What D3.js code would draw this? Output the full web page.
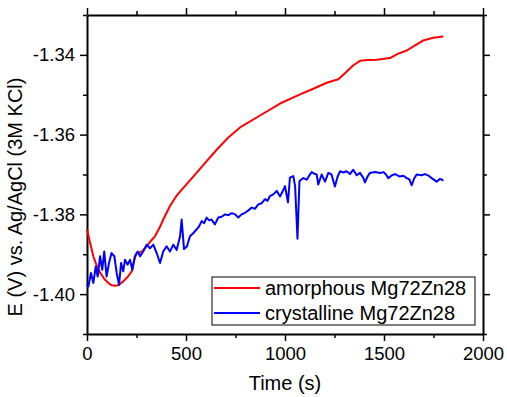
<!DOCTYPE html>
<html>
<head>
<meta charset="utf-8">
<script src="https://cdn.jsdelivr.net/npm/d3@7"></script>
<style>
  body { margin: 0; background: #fff; }
  text { font-family: Arial, "Liberation Sans", sans-serif; fill: #000; }
</style>
</head>
<body>
<svg id="chart"></svg>
<script>
// amorphous Mg72Zn28 (red)
const amorphousTime = [0, 15, 32, 50, 66, 88, 108, 125, 141, 160, 183, 205, 226, 238, 250, 268, 284, 301, 320, 343, 365, 385, 419, 450, 470, 500, 550, 600, 655, 712, 773, 874, 975, 1076, 1143, 1211, 1269, 1303, 1345, 1379, 1420, 1463, 1530, 1572, 1615, 1657, 1697, 1749, 1800];
const amorphousE = [-1.3838, -1.3870, -1.3905, -1.3930, -1.3946, -1.3962, -1.3972, -1.3978, -1.3979, -1.3977, -1.3968, -1.3957, -1.3943, -1.3915, -1.3898, -1.3895, -1.3890, -1.3880, -1.3868, -1.3855, -1.3835, -1.3813, -1.3779, -1.3755, -1.3743, -1.3726, -1.3698, -1.3669, -1.3638, -1.3608, -1.3582, -1.3552, -1.3522, -1.3499, -1.3485, -1.3470, -1.3461, -1.3446, -1.3426, -1.3415, -1.3413, -1.3412, -1.3408, -1.3397, -1.3389, -1.3376, -1.3364, -1.3357, -1.3354];

// crystalline Mg72Zn28 (blue)
const crystallineTime = [0, 7, 20, 32, 44, 54, 66, 77, 87, 99, 111, 124, 138, 150, 162, 172, 183, 192, 205, 217, 229, 242, 256, 268, 284, 301, 318, 335, 352, 369, 385, 402, 419, 436, 453, 470, 478, 490, 505, 520, 535, 553, 566, 579, 592, 604, 617, 629, 646, 663, 680, 697, 714, 731, 748, 764, 781, 798, 815, 832, 848, 865, 882, 899, 912, 924, 941, 958, 975, 990, 1000, 1015, 1025, 1042, 1051, 1063, 1073, 1084, 1093, 1110, 1122, 1135, 1148, 1160, 1168, 1185, 1202, 1219, 1235, 1252, 1266, 1278, 1295, 1311, 1328, 1345, 1362, 1379, 1396, 1404, 1417, 1429, 1455, 1480, 1497, 1510, 1522, 1540, 1556, 1578, 1598, 1615, 1628, 1640, 1652, 1665, 1690, 1707, 1725, 1741, 1755, 1766, 1783, 1800];
const crystallineE = [-1.3975, -1.3981, -1.3947, -1.3972, -1.3931, -1.3956, -1.3905, -1.3939, -1.3893, -1.3956, -1.3922, -1.3897, -1.3905, -1.3947, -1.3977, -1.3922, -1.3943, -1.3914, -1.3926, -1.3914, -1.3939, -1.3905, -1.3893, -1.3905, -1.3893, -1.3876, -1.3885, -1.3876, -1.3897, -1.3922, -1.3893, -1.3880, -1.3893, -1.3876, -1.3889, -1.3855, -1.3813, -1.3887, -1.3880, -1.3855, -1.3848, -1.3838, -1.3830, -1.3817, -1.3822, -1.3808, -1.3815, -1.3813, -1.3825, -1.3808, -1.3806, -1.3800, -1.3802, -1.3797, -1.3800, -1.3808, -1.3800, -1.3796, -1.3790, -1.3783, -1.3786, -1.3775, -1.3772, -1.3762, -1.3766, -1.3754, -1.3750, -1.3741, -1.3755, -1.3740, -1.3729, -1.3770, -1.3708, -1.3704, -1.3729, -1.3861, -1.3717, -1.3712, -1.3709, -1.3713, -1.3703, -1.3694, -1.3698, -1.3700, -1.3725, -1.3700, -1.3718, -1.3696, -1.3700, -1.3730, -1.3705, -1.3692, -1.3695, -1.3692, -1.3699, -1.3688, -1.3702, -1.3696, -1.3709, -1.3720, -1.3705, -1.3696, -1.3694, -1.3696, -1.3694, -1.3700, -1.3709, -1.3702, -1.3699, -1.3705, -1.3703, -1.3709, -1.3712, -1.3727, -1.3710, -1.3700, -1.3702, -1.3699, -1.3703, -1.3709, -1.3714, -1.3718, -1.3711, -1.3715];

const seriesNames = ["amorphous Mg72Zn28", "crystalline Mg72Zn28"];
const seriesColors = ["#ff0000", "#0000ff"];
const xTicks = [0, 500, 1000, 1500, 2000];
const yTicks = [-1.34, -1.36, -1.38, -1.40];

const W = 507, H = 397;
const margin = {top: 15, right: 24, bottom: 63, left: 87};

const svg = d3.select("#chart")
    .attr("width", W)
    .attr("height", H);

const x = d3.scaleLinear()
    .domain([0, 2000])
    .range([margin.left, W - margin.right]);

const y = d3.scaleLinear()
    .domain([-1.41, -1.33])
    .range([H - margin.bottom, margin.top]);

const xMinor = d3.range(250, 2000, 500);
const yMinor = [-1.33, -1.35, -1.37, -1.39, -1.41];

// minor ticks first, then major axes on top
function minorAxis(axisFn, scale, vals, tr) {
    svg.append("g")
        .attr("transform", tr)
        .call(axisFn(scale).tickValues(vals).tickSize(4).tickFormat(""))
        .call(g => g.select(".domain").remove())
        .selectAll("line").attr("stroke-width", 1.5);
}
minorAxis(d3.axisBottom, x, xMinor, `translate(0,${y.range()[0]})`);
minorAxis(d3.axisTop, x, xMinor, `translate(0,${margin.top})`);
minorAxis(d3.axisLeft, y, yMinor, `translate(${margin.left},0)`);
minorAxis(d3.axisRight, y, yMinor, `translate(${x.range()[1]},0)`);

const fs = "18.5px";

svg.append("g")
    .attr("transform", `translate(0,${y.range()[0]})`)
    .call(d3.axisBottom(x).tickValues(xTicks).tickSize(7).tickSizeOuter(0).tickPadding(6).tickFormat(d3.format("d")))
    .call(g => g.selectAll("text").style("font-size", fs).attr("fill", "#000"));

svg.append("g")
    .attr("transform", `translate(0,${margin.top})`)
    .call(d3.axisTop(x).tickValues(xTicks).tickSize(7).tickSizeOuter(0).tickFormat(""));

svg.append("g")
    .attr("transform", `translate(${margin.left},0)`)
    .call(d3.axisLeft(y).tickValues(yTicks).tickSize(7).tickSizeOuter(0).tickPadding(5).tickFormat(d3.format(".2f")))
    .call(g => g.selectAll("text").style("font-size", fs).attr("fill", "#000"));

svg.append("g")
    .attr("transform", `translate(${x.range()[1]},0)`)
    .call(d3.axisRight(y).tickValues(yTicks).tickSize(7).tickSizeOuter(0).tickFormat(""));

svg.selectAll(".domain").attr("stroke-width", 2).attr("stroke", "#000");
svg.selectAll(".tick line").attr("stroke-width", 1.5).attr("stroke", "#000");

// the unicode minus from d3.format -> plain hyphen like the original
svg.selectAll(".tick text").text(function () { return d3.select(this).text().replace("\u2212", "-"); });

// axis titles
svg.append("text")
    .attr("x", (x.range()[0] + x.range()[1]) / 2)
    .attr("y", 390)
    .attr("text-anchor", "middle")
    .style("font-size", "20px")
    .text("Time (s)");

svg.append("text")
    .attr("transform", "translate(22,197) rotate(-90)")
    .attr("text-anchor", "middle")
    .style("font-size", "20px")
    .text("E (V) vs. Ag/AgCl (3M KCl)");

// lines
const line = d3.line()
    .x(d => x(d[0]))
    .y(d => y(d[1]));

const series = [
    d3.zip(amorphousTime, amorphousE),
    d3.zip(crystallineTime, crystallineE)
];

svg.append("g")
    .selectAll("path")
    .data(series)
    .join("path")
    .attr("fill", "none")
    .attr("stroke", (d, i) => seriesColors[i])
    .attr("stroke-width", 2)
    .attr("stroke-linejoin", "round")
    .attr("d", line);

// legend
const legend = svg.append("g").attr("transform", "translate(212,277)");
legend.append("rect")
    .attr("width", 263)
    .attr("height", 48)
    .attr("fill", "#fff")
    .attr("stroke", "#000")
    .attr("stroke-width", 1);

const item = legend.selectAll(".item")
    .data(seriesNames)
    .join("g")
    .attr("class", "item")
    .attr("transform", (d, i) => `translate(0,${11 + i * 25})`);

item.append("line")
    .attr("x1", 2).attr("x2", 48)
    .attr("stroke", (d, i) => seriesColors[i])
    .attr("stroke-width", 2);

item.append("text")
    .attr("x", 53)
    .attr("dy", "0.35em")
    .style("font-size", "20px")
    .text(d => d);
</script>
</body>
</html>
